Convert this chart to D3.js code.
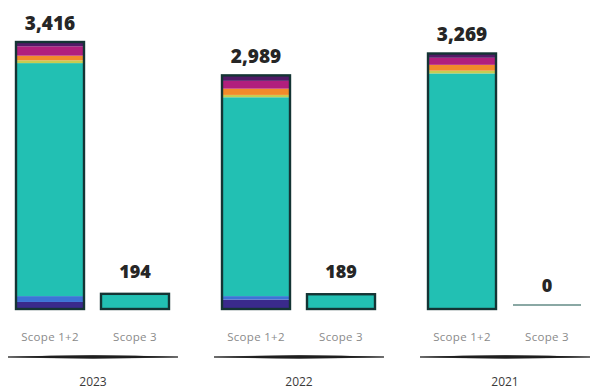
<!DOCTYPE html>
<html>
<head>
<meta charset="utf-8">
<script src="https://cdn.jsdelivr.net/npm/d3@7"></script>
<style>
  html, body { margin: 0; padding: 0; background: #fff; }
  svg { display: block; }
</style>
</head>
<body>
<svg id="chart" width="593" height="392"></svg>
<script>
// Emissions by year, split into Scope 1+2 (stacked by source) and Scope 3
const years = ["2023", "2022", "2021"];
const scopes = ["Scope 1+2", "Scope 3"];
const totals12 = [3416, 2989, 3269];
const totals3 = [194, 189, 0];

// Scope 1+2 components, bottom to top of each stack
const segIndigo  = [90, 120, 10];
const segBlue    = [75, 45, 0];
const segTeal    = [2981, 2544, 3004];
const segLime    = [35, 30, 35];
const segOrange  = [60, 80, 75];
const segMagenta = [120, 100, 90];
const segPlum    = [55, 70, 55];

const segKeys = ["indigo", "blue", "teal", "lime", "orange", "magenta", "plum"];
const segColors = ["#3a2a8c", "#3c74d6", "#22c0b3", "#c6cc52", "#f28a2a", "#b11f7d", "#521a66"];

const rows = years.map((y, i) => ({
  year: y,
  indigo: segIndigo[i], blue: segBlue[i], teal: segTeal[i], lime: segLime[i],
  orange: segOrange[i], magenta: segMagenta[i], plum: segPlum[i]
}));

const svg = d3.select("#chart");
const outline = "#143434";

const x0 = d3.scaleBand().domain(years).range([8, 590]).paddingInner(0.1748).paddingOuter(0);
const x1 = d3.scaleBand().domain(scopes).range([8, 161]).paddingInner(0.2).paddingOuter(0);
const y = d3.scaleLinear().domain([0, 3416]).range([309, 42]);

const color = d3.scaleOrdinal().domain(segKeys).range(segColors);
const stacked = d3.stack().keys(segKeys)(rows);

const panels = svg.selectAll("g.panel")
  .data(years)
  .join("g")
  .attr("class", "panel")
  .attr("transform", d => `translate(${x0(d)},0)`);

// Stacked Scope 1+2 bars
stacked.forEach(layer => {
  panels.append("rect")
    .attr("x", x1("Scope 1+2"))
    .attr("width", x1.bandwidth())
    .attr("y", (d, i) => y(layer[i][1]))
    .attr("height", (d, i) => y(layer[i][0]) - y(layer[i][1]))
    .attr("fill", color(layer.key));
});

// Outline of each Scope 1+2 bar
panels.append("rect")
  .attr("x", x1("Scope 1+2"))
  .attr("width", x1.bandwidth())
  .attr("y", (d, i) => y(totals12[i]))
  .attr("height", (d, i) => y(0) - y(totals12[i]))
  .attr("fill", "none")
  .attr("stroke", outline)
  .attr("stroke-width", 2.4);

// Scope 3 bars (a flat line when the value is zero)
panels.each(function(d, i) {
  const g = d3.select(this);
  if (totals3[i] > 0) {
    g.append("rect")
      .attr("x", x1("Scope 3"))
      .attr("width", x1.bandwidth())
      .attr("y", y(totals3[i]))
      .attr("height", y(0) - y(totals3[i]))
      .attr("fill", "#22c0b3")
      .attr("stroke", outline)
      .attr("stroke-width", 2.4);
  } else {
    g.append("line")
      .attr("x1", x1("Scope 3"))
      .attr("x2", x1("Scope 3") + x1.bandwidth())
      .attr("y1", y(0) - 4)
      .attr("y2", y(0) - 4)
      .attr("stroke", "#8aa8a4")
      .attr("stroke-width", 2);
  }
});

// Value labels
const valueFont = "'Open Sans', sans-serif";
panels.append("text")
  .attr("x", x1("Scope 1+2") + x1.bandwidth() / 2)
  .attr("y", (d, i) => y(totals12[i]) - 12)
  .attr("text-anchor", "middle")
  .attr("font-family", valueFont)
  .attr("font-weight", 800)
  .attr("font-size", 19)
  .attr("fill", "#262626")
  .text((d, i) => d3.format(",")(totals12[i]));

panels.append("text")
  .attr("x", x1("Scope 3") + x1.bandwidth() / 2)
  .attr("y", (d, i) => y(totals3[i]) - (totals3[i] > 0 ? 16 : 17))
  .attr("text-anchor", "middle")
  .attr("font-family", valueFont)
  .attr("font-weight", 800)
  .attr("font-size", 18)
  .attr("fill", "#262626")
  .text((d, i) => d3.format(",")(totals3[i]));

// Scope category axis under each panel
panels.each(function() {
  const g = d3.select(this).append("g").attr("transform", "translate(0,333)");
  g.call(d3.axisBottom(x1).tickSize(0).tickPadding(0));
  g.select(".domain").remove();
  g.selectAll("text")
    .attr("font-family", "'Open Sans', sans-serif")
    .attr("font-size", 11.5)
    .attr("letter-spacing", 0.3)
    .attr("fill", "#8a8a8a");
});

// Brush-like baseline under each panel, thicker in the middle
const baseLine = w => {
  const p = d3.path();
  p.moveTo(0, 357);
  p.quadraticCurveTo(w / 2, 354.2, w, 357);
  p.quadraticCurveTo(w / 2, 359.6, 0, 357);
  p.closePath();
  return p.toString();
};
panels.append("path")
  .attr("d", baseLine(x0.bandwidth()))
  .attr("fill", "#1e1e1e")
  .attr("stroke", "#1e1e1e")
  .attr("stroke-width", 0.8);

// Year labels
panels.append("text")
  .attr("x", x0.bandwidth() / 2)
  .attr("y", 386)
  .attr("text-anchor", "middle")
  .attr("font-family", "'Open Sans', sans-serif")
  .attr("font-size", 12)
  .attr("fill", "#3a3a3a")
  .text(d => d);
</script>
</body>
</html>
